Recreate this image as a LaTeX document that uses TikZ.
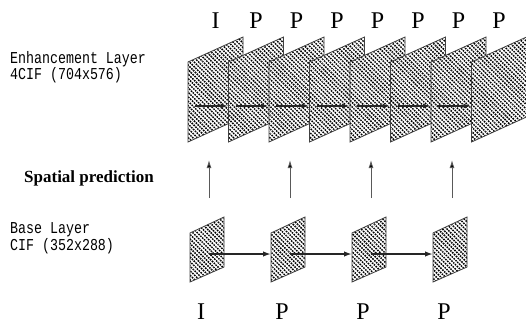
\documentclass[tikz,border=0pt]{standalone}
\usepackage{fontspec}
\setmainfont{Liberation Serif}
\setmonofont{Liberation Mono}
\usetikzlibrary{arrows.meta,patterns.meta}

\begin{document}
\begin{tikzpicture}[x=1pt,y=-1pt,>=Latex,
  hatchfill/.style={preaction={fill=white},
    preaction={pattern={Lines[angle=-45,distance=3.2pt,line width=1.5pt]},pattern color=black},
    preaction={pattern={Lines[angle=45,distance=2.6pt,line width=0.7pt]},pattern color=white},
    draw=black!75,line width=0.8pt},
  tlink/.style={->,line width=1.7pt,black!85,>={Latex[length=8pt,width=5pt]}},
  blink/.style={->,line width=1.7pt,black!85,>={Latex[length=8pt,width=5.5pt,fill=black!45]}},
  slink/.style={->,line width=0.9pt,black!65,>={Latex[length=8pt,width=5pt,fill=black]}},
  ftype/.style={font=\fontsize{24}{24}\selectfont,inner sep=0pt},
  layer/.style={font=\ttfamily\fontsize{13.3}{13}\selectfont,align=left,anchor=west,inner sep=0pt}]
\useasboundingbox (0,0) rectangle (526,325);

% enhancement layer
\foreach \i/\t [evaluate=\i as \l using 188+40.5*\i] in {0/I,1/P,2/P,3/P,4/P,5/P,6/P,7/P} {
  \path[hatchfill] (\l,62) -- (\l+55,37) -- (\l+55,117) -- (\l,142) -- cycle;
  \coordinate (e\i-in) at (\l,106);
  \coordinate (e\i-out) at (\l+7,106);
  \node[ftype] (e\i-type) at (\l+27.5,21) {\t};
}
\foreach \i [count=\j from 1] in {0,...,6}
  \draw[tlink] (e\i-out) -- (e\j-in);

% base layer
\foreach \i/\t [evaluate=\i as \l using 190+81*\i] in {0/I,1/P,2/P,3/P} {
  \path[hatchfill] (\l,233) -- (\l+34,217) -- (\l+34,267) -- (\l,282) -- cycle;
  \coordinate (b\i-in) at (\l,254);
  \coordinate (b\i-out) at (\l+19,254);
  \coordinate (s\i-from) at (\l+19,198);
  \coordinate (s\i-to) at (\l+19,160);
  \node[ftype] (b\i-type) at (\l+11,312) {\t};
}
\foreach \i [count=\j from 1] in {0,...,2}
  \draw[blink] (b\i-out) -- (b\j-in);
\foreach \i in {0,...,3}
  \draw[slink] (s\i-from) -- (s\i-to);

\node[layer] (enh) at (10,67) {\scalebox{1}[1.25]{Enhancement Layer}\\\scalebox{1}[1.25]{4CIF (704x576)}};
\node[font=\bfseries\fontsize{17}{17}\selectfont,anchor=west,inner sep=0pt] (spat) at (24,178) {Spatial prediction};
\node[layer] (base) at (10,238) {\scalebox{1}[1.25]{Base Layer}\\\scalebox{1}[1.25]{CIF (352x288)}};
\end{tikzpicture}
\end{document}
